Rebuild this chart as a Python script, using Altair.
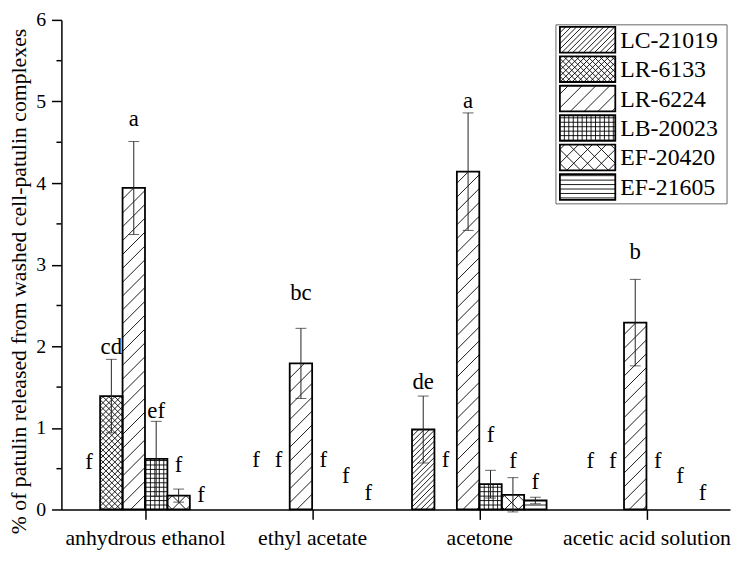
import math
import altair as alt
import pandas as pd

# ---------------- data ----------------
solvents = ["anhydrous ethanol", "ethyl acetate", "acetone", "acetic acid solution"]
strains = ["LC-21019", "LR-6133", "LR-6224", "LB-20023", "EF-20420", "EF-21605"]

# mean % released, one list per strain (order of solvents)
mean_LC21019 = [0.0, 0.0, 0.98, 0.0]
mean_LR6133 = [1.39, 0.0, 0.0, 0.0]
mean_LR6224 = [3.94, 1.79, 4.14, 2.29]
mean_LB20023 = [0.62, 0.0, 0.31, 0.0]
mean_EF20420 = [0.17, 0.0, 0.18, 0.0]
mean_EF21605 = [0.0, 0.0, 0.11, 0.0]

# error (+/-)
err_LC21019 = [0.0, 0.0, 0.41, 0.0]
err_LR6133 = [0.45, 0.0, 0.0, 0.0]
err_LR6224 = [0.57, 0.43, 0.72, 0.53]
err_LB20023 = [0.46, 0.0, 0.17, 0.0]
err_EF20420 = [0.08, 0.0, 0.21, 0.0]
err_EF21605 = [0.0, 0.0, 0.04, 0.0]

# significance letters
let_LC21019 = ["f", "f", "de", "f"]
let_LR6133 = ["cd", "f", "f", "f"]
let_LR6224 = ["a", "bc", "a", "b"]
let_LB20023 = ["ef", "f", "f", "f"]
let_EF20420 = ["f", "f", "f", "f"]
let_EF21605 = ["f", "f", "f", "f"]

# height (data units) at which each letter sits
lab_LC21019 = [0.58, 0.60, 1.56, 0.59]
lab_LR6133 = [1.99, 0.60, 0.60, 0.59]
lab_LR6224 = [4.79, 2.65, 5.00, 3.15]
lab_LB20023 = [1.21, 0.60, 0.91, 0.59]
lab_EF20420 = [0.55, 0.41, 0.59, 0.41]
lab_EF21605 = [0.18, 0.20, 0.33, 0.20]

y_ticks = [0, 1, 2, 3, 4, 5, 6]
y_minor = [0.5, 1.5, 2.5, 3.5, 4.5, 5.5]

means = [mean_LC21019, mean_LR6133, mean_LR6224, mean_LB20023, mean_EF20420, mean_EF21605]
errs = [err_LC21019, err_LR6133, err_LR6224, err_LB20023, err_EF20420, err_EF21605]
lets = [let_LC21019, let_LR6133, let_LR6224, let_LB20023, let_EF20420, let_EF21605]
labs = [lab_LC21019, lab_LR6133, lab_LR6224, lab_LB20023, lab_EF20420, lab_EF21605]

# ---------------- layout / style ----------------
W, H = 676, 495
XMAX, YMAX = 4, 6
PXX, PXY = W / XMAX, H / YMAX
GROUP_W = 0.805
BW = GROUP_W / len(strains)
FONT = "Liberation Serif, DejaVu Serif, serif"

patterns = {
    "LC-21019": [("fwd", 5.5)],
    "LR-6133": [("fwd", 6.0), ("back", 6.0)],
    "LR-6224": [("fwd", 14.0)],
    "LB-20023": [("h", 4.5), ("v", 4.5)],
    "EF-20420": [("fwd", 14.0), ("back", 14.0)],
    "EF-21605": [("h", 4.5)],
}


def hatch(x0, x1, y0, y1, kind, s):
    """segments in pixel space (y up) clipped to the rectangle"""
    segs = []
    eps = 0.3
    if kind == "h":
        c = math.ceil(y0 / s) * s
        while c < y1 - eps:
            if c > y0 + eps:
                segs.append((x0, c, x1, c))
            c += s
    elif kind == "v":
        c = math.ceil(x0 / s) * s
        while c < x1 - eps:
            if c > x0 + eps:
                segs.append((c, y0, c, y1))
            c += s
    elif kind == "fwd":
        c = math.ceil((x0 - y1) / s) * s
        while c < x1 - y0:
            xs, xe = max(x0, y0 + c), min(x1, y1 + c)
            if xe - xs > eps:
                segs.append((xs, xs - c, xe, xe - c))
            c += s
    elif kind == "back":
        c = math.ceil((x0 + y0) / s) * s
        while c < x1 + y1:
            xs, xe = max(x0, c - y1), min(x1, c - y0)
            if xe - xs > eps:
                segs.append((xs, c - xs, xe, c - xe))
            c += s
    return segs


bar_rows, hatch_rows = [], []
for g, solvent in enumerate(solvents):
    for k, strain in enumerate(strains):
        x0 = g + 0.5 - GROUP_W / 2 + k * BW
        x1 = x0 + BW
        m, e = means[k][g], errs[k][g]
        bar_rows.append(dict(solvent=solvent, strain=strain, x0=x0, x1=x1,
                             xc=(x0 + x1) / 2, base=0.0, mean=m,
                             lo=m - e, hi=m + e, err=e,
                             letter=lets[k][g], laby=labs[k][g]))
        if m > 0:
            for kind, s in patterns[strain]:
                for (a, b, c, d) in hatch(x0 * PXX, x1 * PXX, 0, m * PXY, kind, s):
                    hatch_rows.append(dict(xa=a / PXX, ya=b / PXY, xb=c / PXX, yb=d / PXY))

bars = pd.DataFrame(bar_rows)
bars_nz = bars[bars["mean"] > 0]
errbars = bars[bars["err"] > 0]
hatches = pd.DataFrame(hatch_rows)
minor_df = pd.DataFrame({"v": y_minor})

# ---------------- legend (built from the strain list) ----------------
LBOX = (500, 673, 5, 186)          # px from plot left / plot top
SW_X0, SW_X1 = 504, 560
ROW0, ROW_STEP, ROW_H = 7, 29.8, 26
TXT_X = 565

leg_rows, leg_hatch = [], []
for i, strain in enumerate(strains):
    top = ROW0 + i * ROW_STEP
    py0, py1 = H - (top + ROW_H), H - top
    leg_rows.append(dict(strain=strain, x0=SW_X0 / PXX, x1=SW_X1 / PXX,
                         y0=py0 / PXY, y1=py1 / PXY,
                         tx=TXT_X / PXX, ty=(H - (top + ROW_H / 2 + 1)) / PXY))
    for kind, s in patterns[strain]:
        for (a, b, c, d) in hatch(SW_X0, SW_X1, py0, py1, kind, s):
            leg_hatch.append(dict(xa=a / PXX, ya=b / PXY, xb=c / PXX, yb=d / PXY))
legend_df = pd.DataFrame(leg_rows)
legend_hatch = pd.DataFrame(leg_hatch)
legbox = pd.DataFrame([dict(x0=LBOX[0] / PXX, x1=LBOX[1] / PXX,
                            y0=(H - LBOX[3]) / PXY, y1=(H - LBOX[2]) / PXY)])

# ---------------- scales / axes ----------------
xscale = alt.Scale(domain=[0, XMAX], nice=False, zero=False)
yscale = alt.Scale(domain=[0, YMAX], nice=False)

x_axis = alt.Axis(
    values=[g + 0.5 for g in range(len(solvents))],
    labelExpr="[" + ",".join(f"'{s}'" for s in solvents) + "][floor(datum.value)]",
    title=None, tickSize=10, labelFontSize=22, labelPadding=8,
)
y_axis = alt.Axis(
    values=y_ticks,
    title="% of patulin released from washed cell-patulin complexes",
    titleFontSize=22, titleX=-31, titleY=264,
    tickSize=10, labelFontSize=20, labelPadding=6,
)

X = lambda f: alt.X(f, type="quantitative", scale=xscale, axis=x_axis)
Y = lambda f: alt.Y(f, type="quantitative", scale=yscale, axis=y_axis)

bar_fill = alt.Chart(bars_nz).mark_rect(fill="white", stroke=None).encode(
    x=X("x0"), x2="x1", y=Y("base"), y2="mean")

hatch_layer = alt.Chart(hatches).mark_rule(color="black", strokeWidth=0.9).encode(
    x=X("xa"), x2="xb", y=Y("ya"), y2="yb")

bar_outline = alt.Chart(bars_nz).mark_rect(fillOpacity=0, stroke="black", strokeWidth=1.8).encode(
    x=X("x0"), x2="x1", y=Y("base"), y2="mean")

err_rule = alt.Chart(errbars).mark_rule(color="#222", strokeWidth=1).encode(
    x=X("xc"), y=Y("lo"), y2="hi")
cap_hi = alt.Chart(errbars).mark_tick(orient="horizontal", color="#222", size=11, thickness=1).encode(
    x=X("xc"), y=Y("hi"))
cap_lo = alt.Chart(errbars).mark_tick(orient="horizontal", color="#222", size=11, thickness=1).encode(
    x=X("xc"), y=Y("lo"))

minor_ticks = alt.Chart(minor_df).mark_rule(color="black", strokeWidth=1.5).encode(
    y=Y("v"), x=alt.value(-5), x2=alt.value(0))

letters = alt.Chart(bars).mark_text(fontSize=23, color="black",
                                    align="center", baseline="middle").encode(
    x=X("xc"), y=Y("laby"), text="letter")

leg_box = alt.Chart(legbox).mark_rect(fill="white", stroke="#666", strokeWidth=1).encode(
    x=X("x0"), x2="x1", y=Y("y0"), y2="y1")
leg_sw_fill = alt.Chart(legend_df).mark_rect(fill="white").encode(
    x=X("x0"), x2="x1", y=Y("y0"), y2="y1")
leg_sw_hatch = alt.Chart(legend_hatch).mark_rule(color="black", strokeWidth=0.9).encode(
    x=X("xa"), x2="xb", y=Y("ya"), y2="yb")
leg_sw_out = alt.Chart(legend_df).mark_rect(fillOpacity=0, stroke="black", strokeWidth=1.8).encode(
    x=X("x0"), x2="x1", y=Y("y0"), y2="y1")
leg_text = alt.Chart(legend_df).mark_text(fontSize=24, color="black",
                                          align="left", baseline="middle").encode(
    x=X("tx"), y=Y("ty"), text="strain")

chart = alt.layer(
    bar_fill, hatch_layer, bar_outline, err_rule, cap_hi, cap_lo, minor_ticks, letters,
    leg_box, leg_sw_fill, leg_sw_hatch, leg_sw_out, leg_text,
).properties(
    width=W, height=H,
    autosize=alt.AutoSizeParams(type="none"),
    padding={"left": 54, "top": 9, "right": 2, "bottom": 43},
    background="white",
).configure(font=FONT).configure_view(stroke=None).configure_axis(
    grid=False, domainColor="black", domainWidth=1.5, tickColor="black", tickWidth=1.5,
    labelColor="black", labelFont=FONT, titleFont=FONT, titleColor="black",
    titleFontWeight="normal", labelFlush=False, labelOverlap=False, zindex=1,
).configure_text(font=FONT)

chart.save("out.html", embed_options={"renderer": "svg", "actions": False})
